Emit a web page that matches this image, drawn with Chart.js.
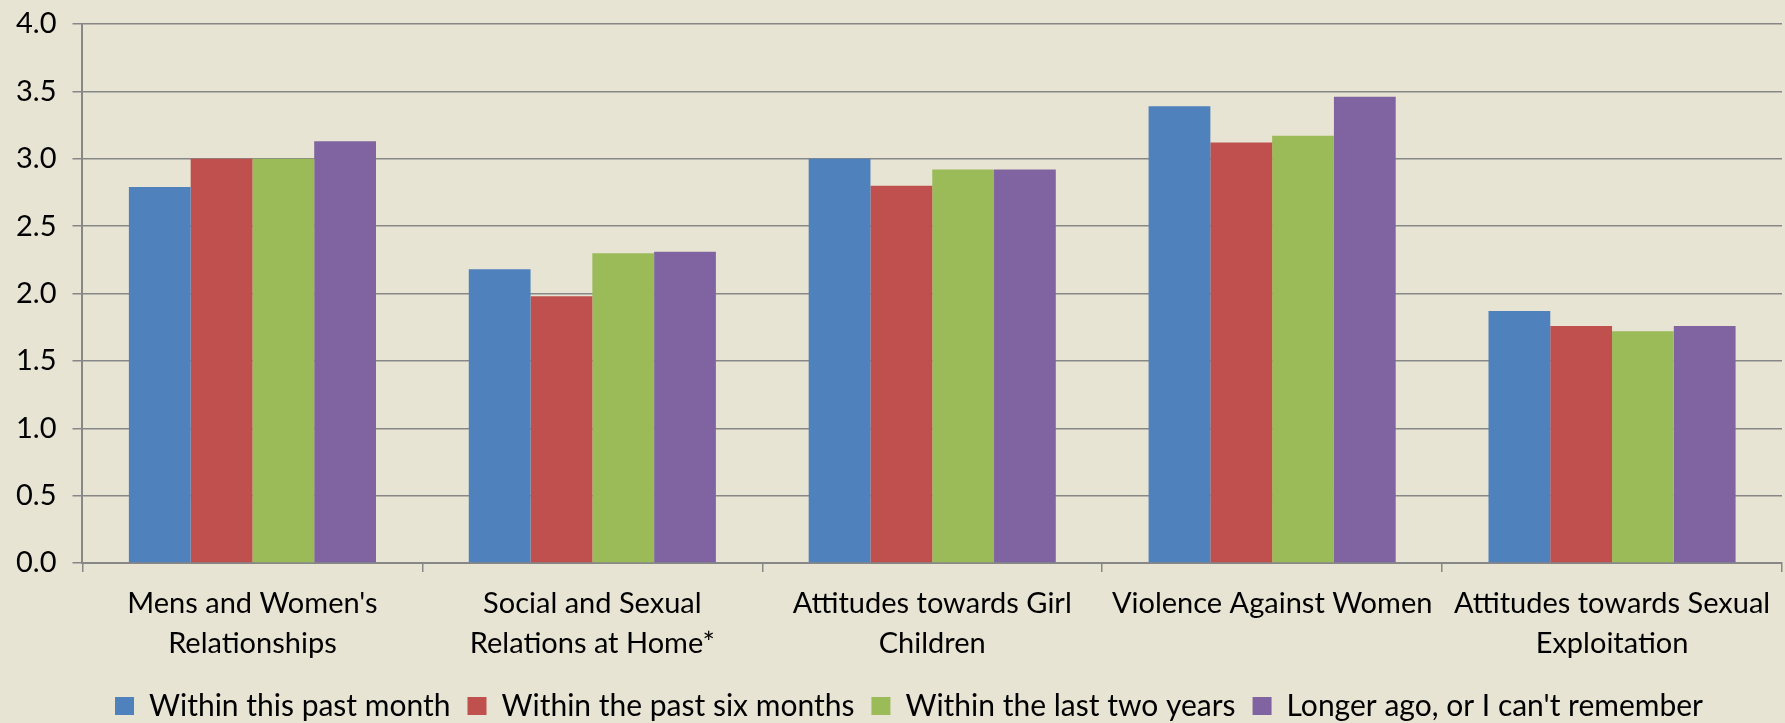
<!DOCTYPE html>
<html>
<head>
<meta charset="utf-8">
<script src="https://cdn.jsdelivr.net/npm/chart.js@4/dist/chart.umd.min.js"></script>
<style>
  html, body { margin: 0; padding: 0; background: #E7E4D3; }
  #wrap { width: 1785px; height: 723px; }
</style>
</head>
<body>
<div id="wrap"><canvas id="c" width="1785" height="723"></canvas></div>
<script>
const categories = [
  ["Mens and Women's", "Relationships"],
  ["Social and Sexual", "Relations at Home*"],
  ["Attitudes towards Girl", "Children"],
  ["Violence Against Women"],
  ["Attitudes towards Sexual", "Exploitation"]
];
const seriesNames = [
  "Within this past month",
  "Within the past six months",
  "Within the last two years",
  "Longer ago, or I can't remember"
];
const pastMonth   = [2.79, 2.18, 3.00, 3.39, 1.87];
const pastSix     = [3.00, 1.98, 2.80, 3.12, 1.76];
const lastTwo     = [3.00, 2.30, 2.92, 3.17, 1.72];
const longerAgo   = [3.13, 2.31, 2.92, 3.46, 1.76];
const yTicks = [0, 0.5, 1.0, 1.5, 2.0, 2.5, 3.0, 3.5, 4.0];

const colors = ["#4F81BD", "#C0504D", "#9BBB59", "#8064A2"];
const values = [pastMonth, pastSix, lastTwo, longerAgo];
const FONT = "Lato, 'Open Sans', sans-serif";
const gridColor = "#878787";

const bgPlugin = {
  id: 'bg',
  beforeDraw(chart) {
    const ctx = chart.ctx;
    ctx.save();
    ctx.fillStyle = '#E7E4D3';
    ctx.fillRect(0, 0, chart.width, chart.height);
    ctx.restore();
  }
};
const legendShift = {
  id: 'legendShift',
  afterLayout(chart) {
    const lg = chart.legend;
    if (lg) {
      lg.left += 18; lg.right += 18;
      lg.top += 8; lg.bottom += 8;
    }
  }
};

new Chart(document.getElementById('c'), {
  type: 'bar',
  data: {
    labels: categories,
    datasets: seriesNames.map((n, i) => ({
      label: n,
      data: values[i],
      backgroundColor: colors[i],
      borderWidth: 0,
      categoryPercentage: 0.727,
      barPercentage: 1.0
    }))
  },
  options: {
    responsive: false,
    animation: false,
    devicePixelRatio: 1,
    layout: { padding: { top: 0, right: 3, left: 0, bottom: 0 } },
    plugins: {
      tooltip: { enabled: false },
      legend: {
        position: 'bottom',
        labels: {
          font: { family: FONT, size: 30 },
          color: '#000',
          boxWidth: 19,
          boxHeight: 18,
          padding: 17
        }
      }
    },
    scales: {
      x: {
        afterFit(scale) { scale.height -= 9; },
        grid: {
          drawOnChartArea: false,
          drawTicks: true,
          tickLength: 9,
          color: gridColor,
          lineWidth: 1.5
        },
        border: { color: gridColor, width: 2 },
        ticks: {
          font: { family: FONT, size: 29, lineHeight: 1.36 },
          color: '#000',
          maxRotation: 0,
          autoSkip: false,
          padding: 12
        }
      },
      y: {
        min: 0,
        max: 4,
        afterBuildTicks(axis) { axis.ticks = yTicks.map(v => ({ value: v })); },
        afterFit(scale) { scale.paddingTop = 24; },
        grid: {
          color: gridColor,
          lineWidth: 1.5,
          drawTicks: true,
          tickLength: 10
        },
        border: { color: gridColor, width: 2 },
        ticks: {
          font: { family: FONT, size: 29 },
          color: '#000',
          padding: 16,
          callback: v => Number(v).toFixed(1)
        }
      }
    }
  },
  plugins: [bgPlugin, legendShift]
});
</script>
</body>
</html>
